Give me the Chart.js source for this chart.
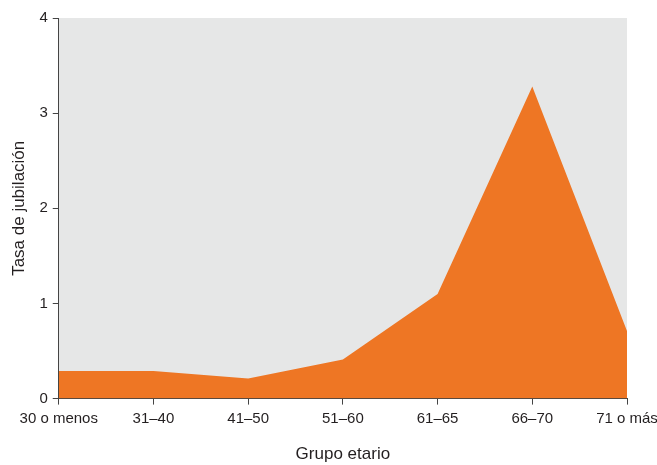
<!DOCTYPE html>
<html>
<head>
<meta charset="utf-8">
<script src="https://cdn.jsdelivr.net/npm/chart.js@4"></script>
<style>
  html, body { margin: 0; padding: 0; background: #fff; }
  #wrap { width: 657px; height: 465px; }
</style>
</head>
<body>
<div id="wrap"><canvas id="tasa"></canvas></div>
<script>
// datos
var grupos = ['30 o menos', '31–40', '41–50', '51–60', '61–65', '66–70', '71 o más'];
var tasas = [0.29, 0.29, 0.21, 0.41, 1.10, 3.28, 0.71];
var yTicks = [0, 1, 2, 3, 4];

var fondoArea = {
    id: 'fondoArea',
    beforeDraw: function (chart) {
        var a = chart.chartArea, c = chart.ctx;
        c.save();
        c.fillStyle = '#e6e7e7';
        c.fillRect(a.left, a.top, a.right - a.left, a.bottom - a.top);
        c.restore();
    }
};

Chart.defaults.font.family = '"Liberation Sans", Arial, sans-serif';
Chart.defaults.color = '#231f20';

var ctx = document.getElementById('tasa').getContext('2d');
var myChart = new Chart(ctx, {
    type: 'line',
    data: {
        labels: grupos,
        datasets: [{
            label: 'Tasa de jubilación',
            data: tasas,
            borderWidth: 0,
            backgroundColor: '#ee7624',
            pointRadius: 0,
            tension: 0,
            fill: 'origin'
        }]
    },
    options: {
        responsive: true,
        maintainAspectRatio: false,
        animation: false,
        layout: { padding: { top: 18, right: 30, left: 9, bottom: 0 } },
        plugins: { legend: { display: false }, tooltip: { enabled: false } },
        scales: {
            x: {
                offset: false,
                grid: { drawOnChartArea: false, color: '#444', tickLength: 6 },
                border: { color: '#444', width: 1 },
                ticks: { font: { size: 15 }, maxRotation: 0, padding: 5 },
                title: { display: true, text: 'Grupo etario', font: { size: 17 }, padding: { top: 12, bottom: 0 } },
                afterFit: function (s) { s.paddingLeft = 0; s.paddingRight = 0; }
            },
            y: {
                min: 0,
                max: 4,
                afterBuildTicks: function (s) { s.ticks = yTicks.map(function (v) { return { value: v }; }); },
                grid: { drawOnChartArea: false, color: '#444', tickLength: 6 },
                border: { color: '#444', width: 1 },
                ticks: { font: { size: 15 }, padding: 5 },
                title: { display: true, text: 'Tasa de jubilación', font: { size: 17 }, padding: { top: 0, bottom: 5 } }
            }
        }
    },
    plugins: [fondoArea]
});
</script>
</body>
</html>
